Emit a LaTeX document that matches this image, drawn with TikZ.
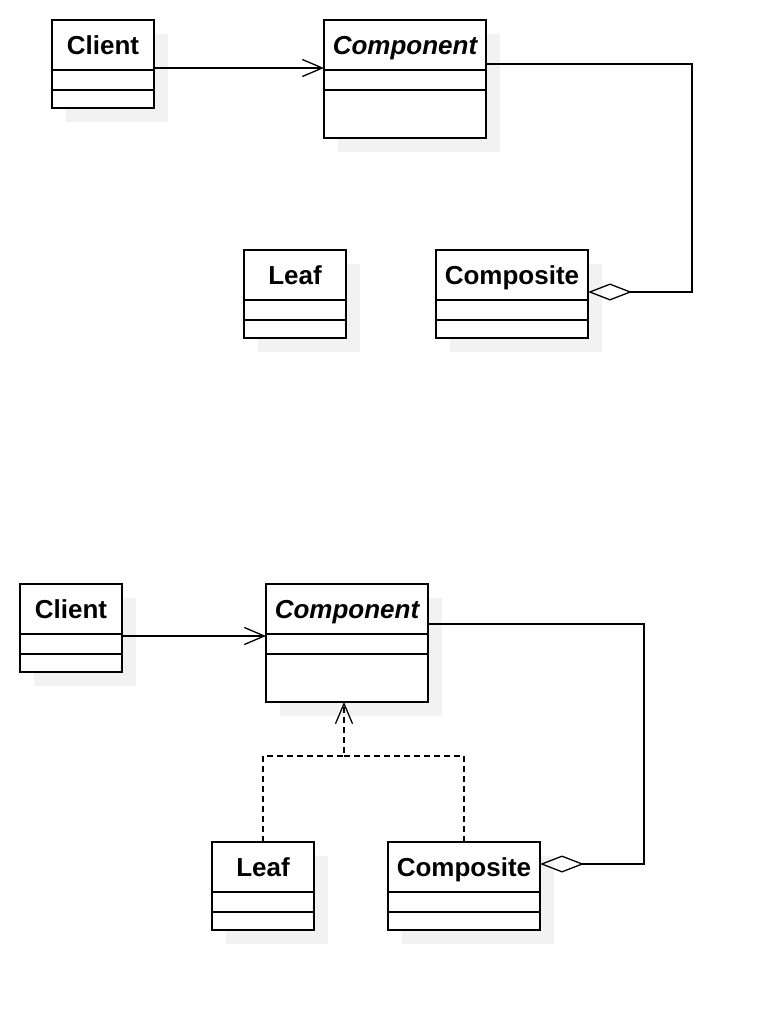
\documentclass[tikz,border=0pt]{standalone}
\usepackage{fontspec}
\setmainfont{Liberation Sans}
\usepackage{tikz}
\usetikzlibrary{arrows.meta,positioning,shadows}
\tikzset{
  cls/.style={draw,fill=white,line width=1.3pt,inner sep=0pt,outer sep=0pt,
              minimum height=50pt,text height=18.6pt,text depth=0pt,
              font=\bfseries\fontsize{26}{30}\selectfont,
              drop shadow={shadow xshift=14pt,shadow yshift=-14pt,fill=black!5,opacity=1}},
  abs/.style={cls,font=\bfseries\itshape\fontsize{26}{30}\selectfont},  % 抽象类：斜体
  cpt/.style={cls,minimum height=#1,text height=0pt},                 % 属性/操作栏
  assoc/.style={-{Straight Barb[length=20pt,width=17pt]},line width=1.3pt},
  real/.style={assoc,dash pattern=on 6pt off 4pt},                   % 实现：虚线
  aggr/.style={{Diamond[open,length=44pt,width=17pt]}-,line width=1.3pt}
}
\begin{document}
\begin{tikzpicture}[x=1pt,y=-1pt]
  \useasboundingbox (0,0) rectangle (774,1010);
  % 上图：只有关联与聚合
  \node[cls,minimum width=102pt,anchor=north west] (cl1) at (52,20) {Client};
  \node[cpt=20pt,minimum width=102pt,below=0pt of cl1] (cl1a) {};
  \node[cpt=18pt,minimum width=102pt,below=0pt of cl1a] (cl1o) {};
  \node[abs,minimum width=162pt,anchor=north west] (co1) at (324,20) {Component};
  \node[cpt=20pt,minimum width=162pt,below=0pt of co1] (co1a) {};
  \node[cpt=48pt,minimum width=162pt,below=0pt of co1a] (co1o) {};
  \node[cls,minimum width=102pt,anchor=north west] (lf1) at (244,250) {Leaf};
  \node[cpt=20pt,minimum width=102pt,below=0pt of lf1] (lf1a) {};
  \node[cpt=18pt,minimum width=102pt,below=0pt of lf1a] (lf1o) {};
  \node[cls,minimum width=152pt,anchor=north west] (cp1) at (436,250) {Composite};
  \node[cpt=20pt,minimum width=152pt,below=0pt of cp1] (cp1a) {};
  \node[cpt=18pt,minimum width=152pt,below=0pt of cp1a] (cp1o) {};
  \draw[assoc] ([yshift=2pt]cl1.south east) -- ([yshift=2pt]co1.south west);
  \draw[aggr] ([yshift=8pt]cp1.south east) -- ++(104,0) |- ([yshift=6pt]co1.south east);

  % 下图：Leaf 与 Composite 实现 Component
  \node[cls,minimum width=102pt,anchor=north west] (cl2) at (20,584) {Client};
  \node[cpt=20pt,minimum width=102pt,below=0pt of cl2] (cl2a) {};
  \node[cpt=18pt,minimum width=102pt,below=0pt of cl2a] (cl2o) {};
  \node[abs,minimum width=162pt,anchor=north west] (co2) at (266,584) {Component};
  \node[cpt=20pt,minimum width=162pt,below=0pt of co2] (co2a) {};
  \node[cpt=48pt,minimum width=162pt,below=0pt of co2a] (co2o) {};
  \node[cls,minimum width=102pt,anchor=north west] (lf2) at (212,842) {Leaf};
  \node[cpt=20pt,minimum width=102pt,below=0pt of lf2] (lf2a) {};
  \node[cpt=18pt,minimum width=102pt,below=0pt of lf2a] (lf2o) {};
  \node[cls,minimum width=152pt,anchor=north west] (cp2) at (388,842) {Composite};
  \node[cpt=20pt,minimum width=152pt,below=0pt of cp2] (cp2a) {};
  \node[cpt=18pt,minimum width=152pt,below=0pt of cp2a] (cp2o) {};
  \draw[assoc] ([yshift=-2pt]cl2.south east) -- ([yshift=-2pt]co2.south west);
  \draw[aggr] ([yshift=28pt]cp2.south east) -- ++(104,0) |- ([yshift=10pt]co2.south east);
  \coordinate (j) at (344,756);
  \draw[real] (lf2.north) |- (j) -- (j |- co2o.south);
  \draw[real,-] (cp2.north) |- (j);
\end{tikzpicture}
\end{document}
